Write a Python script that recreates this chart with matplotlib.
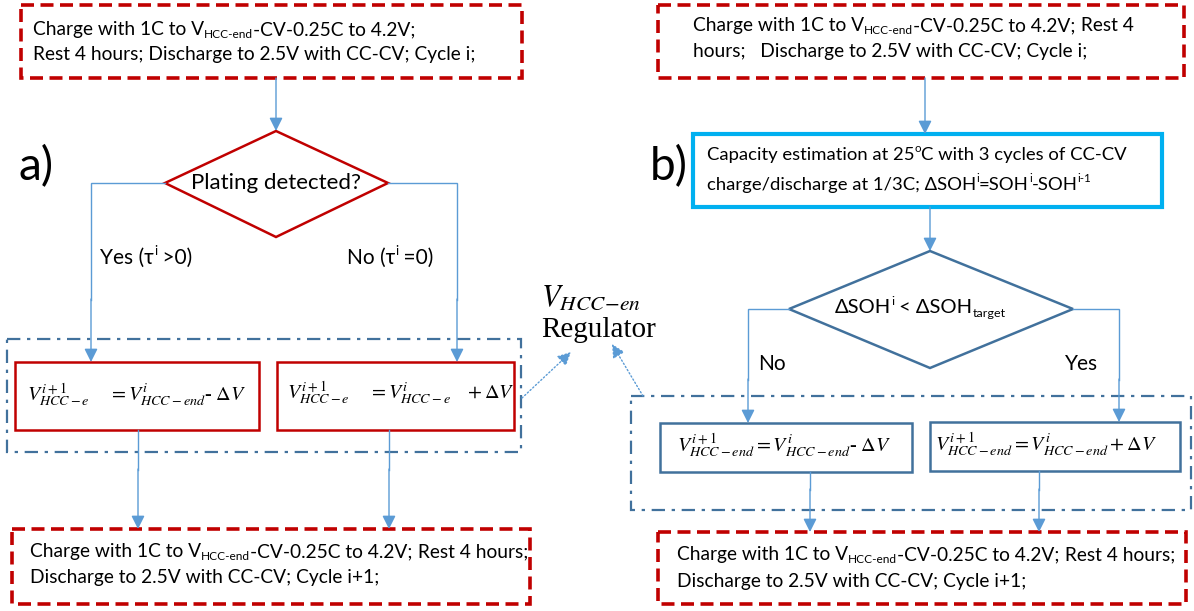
import matplotlib.pyplot as plt
from matplotlib.patches import Rectangle, Polygon

# Farben wie in der Vorlage
RED = '#C00000'
LINE = '#5B9BD5'
STEEL = '#41719C'
CYAN = '#00B0F0'
FONT = ['Lato', 'DejaVu Sans']

# Texte (Segmente: 0 = normal, -1 = tiefgestellt, 1 = hochgestellt)
sub_v = [("Charge with 1C to V", 0), ("HCC-end", -1), ("-CV-0.25C to 4.2V;", 0)]
top_a = [sub_v, [("Rest 4 hours; Discharge to 2.5V with CC-CV; Cycle i;", 0)]]
top_b = [sub_v + [(" Rest 4", 0)],
         [("hours;   Discharge to 2.5V with CC-CV; Cycle i;", 0)]]
bottom_ab = [sub_v + [(" Rest 4 hours;", 0)],
             [("Discharge to 2.5V with CC-CV; Cycle i+1;", 0)]]
capacity = [[("Capacity estimation at 25", 0), ("o", 1), ("C with 3 cycles of CC-CV", 0)],
            [("charge/discharge at 1/3C; ΔSOH", 0), ("i", 1), ("=SOH", 0), ("i", 1),
             ("-SOH", 0), ("i-1", 1)]]
plating_q = "Plating detected?"
soh_q = [("ΔSOH", 0), ("i", 1), (" < ΔSOH", 0), ("target", -1)]
yes_a = [("Yes (τ", 0), ("i", 1), (" >0)", 0)]
no_a = [("No (τ", 0), ("i", 1), (" =0)", 0)]
yes_b, no_b = "Yes", "No"
eq_a_minus = r"$V^{i+1}_{HCC-e}\quad\ = V^{i}_{HCC-end}$-$\ \Delta V$"
eq_a_plus = r"$V^{i+1}_{HCC-e}\quad\ = V^{i}_{HCC-e}\quad + \Delta V$"
eq_b_minus = r"$V^{i+1}_{HCC-end} = V^{i}_{HCC-end}$-$\ \Delta V$"
eq_b_plus = r"$V^{i+1}_{HCC-end} = V^{i}_{HCC-end} + \Delta V$"
reg_v = r"$V_{HCC\!-\!en}$"
reg_txt = "Regulator"

fig = plt.figure(figsize=(11.94, 6.11), dpi=100)
ax = fig.add_axes([0, 0, 1, 1])
ax.set_xlim(0, 1194)
ax.set_ylim(611, 0)
ax.axis('off')

TS = 13.8


def rich(x, y, parts, size=TS):
    prev = ax.text(x, y, parts[0][0], fontsize=size, va='baseline', ha='left', family=FONT)
    for s, lvl in parts[1:]:
        fs = size if lvl == 0 else size * 0.62
        off = {0: 0, -1: -size * 0.18, 1: size * 0.42}[lvl]
        prev = ax.annotate(s, xy=(1, y), xycoords=(prev, 'data'), xytext=(0, off),
                           textcoords='offset points', fontsize=fs, va='baseline',
                           ha='left', family=FONT)


def box(x0, y0, x1, y1, color, lw, ls='-'):
    ax.add_patch(Rectangle((x0, y0), x1 - x0, y1 - y0, fill=False, ec=color, lw=lw,
                           ls=ls, joinstyle='miter'))


def arrow(p0, p1, ls='-'):
    ax.annotate('', xy=p1, xytext=p0,
                arrowprops=dict(arrowstyle='-|>', color=LINE, lw=1.0, ls=ls,
                                mutation_scale=20, shrinkA=0, shrinkB=0))


def line(xs, ys):
    ax.plot(xs, ys, color=LINE, lw=1.0, solid_joinstyle='miter')


def eq(x, y, s):
    ax.text(x, y, s, fontsize=14.5, va='center', family='Liberation Serif',
            math_fontfamily='stix')


dash_red = (0, (3.6, 1.8))
dash_dot = (0, (6, 3, 1.5, 3))

# ---------------- a) ----------------
box(21, 5, 522, 78, RED, 2.6, dash_red)
rich(33, 35, top_a[0])
rich(33, 60, top_a[1])
arrow((276, 78), (276, 131))
ax.text(18, 180, "a)", fontsize=33, va='baseline', family=FONT)
ax.add_patch(Polygon([(276, 131), (388, 183), (276, 237), (165, 183)], closed=True,
                     fill=False, ec=RED, lw=1.8))
ax.text(276, 183, plating_q, fontsize=16, ha='center', va='center', family=FONT)
line([165, 91, 91], [183, 183, 300])
arrow((91, 299), (91, 362))
line([388, 457, 457], [183, 183, 300])
arrow((457, 299), (457, 362))
rich(100, 264, yes_a, size=15)
rich(347, 264, no_a, size=15)
box(7, 339, 521, 452, STEEL, 1.6, dash_dot)
box(15, 362, 259, 430, RED, 1.8)
box(277, 362, 514, 430, RED, 1.8)
eq(27, 395, eq_a_minus)
eq(287, 393, eq_a_plus)
line([138, 138], [430, 470])
arrow((138, 469), (138, 529))
line([389, 389], [430, 470])
arrow((389, 469), (389, 529))
box(11.5, 529, 530, 604, RED, 2.6, dash_red)
rich(30, 557, bottom_ab[0])
rich(30, 583, bottom_ab[1])

# Regler
ax.text(541, 297, reg_v, fontsize=22, va='center', math_fontfamily='stix')
ax.text(541, 337, reg_txt, fontsize=21, va='baseline', family='Liberation Serif')
arrow((522, 398), (571, 352), ls=':')
arrow((643, 396), (612, 344), ls=':')

# ---------------- b) ----------------
box(658, 5, 1184, 78, RED, 2.6, dash_red)
rich(693, 31, top_b[0])
rich(693, 57, top_b[1])
arrow((925, 78), (925, 134))
ax.text(650, 180, "b)", fontsize=33, va='baseline', family=FONT)
box(693, 134, 1162, 207, CYAN, 3.0)
rich(707, 160, capacity[0], size=13.3)
rich(707, 190, capacity[1], size=13.3)
arrow((930, 207), (930, 251))
ax.add_patch(Polygon([(930, 251), (1073, 309), (930, 368), (789, 309)], closed=True,
                     fill=False, ec=STEEL, lw=1.8))
rich(835, 313, soh_q, size=14.5)
line([789, 748, 748], [309, 309, 380])
arrow((748, 379), (748, 423))
line([1073, 1119, 1119], [309, 309, 380])
arrow((1119, 379), (1119, 422))
ax.text(758, 370, no_b, fontsize=15, va='baseline', family=FONT)
ax.text(1065, 370, yes_b, fontsize=15, va='baseline', family=FONT)
box(631, 396, 1191, 510, STEEL, 1.6, dash_dot)
box(660, 423, 912, 472, STEEL, 1.8)
box(930, 422, 1180, 471, STEEL, 1.8)
eq(677, 446, eq_b_minus)
eq(935, 445, eq_b_plus)
line([810, 810], [472, 490])
arrow((810, 489), (810, 532))
line([1039, 1039], [471, 490])
arrow((1039, 489), (1039, 532))
box(658, 532, 1186, 604, RED, 2.6, dash_red)
rich(677, 560, bottom_ab[0])
rich(677, 587, bottom_ab[1])

fig.savefig('out.png', dpi=100)
